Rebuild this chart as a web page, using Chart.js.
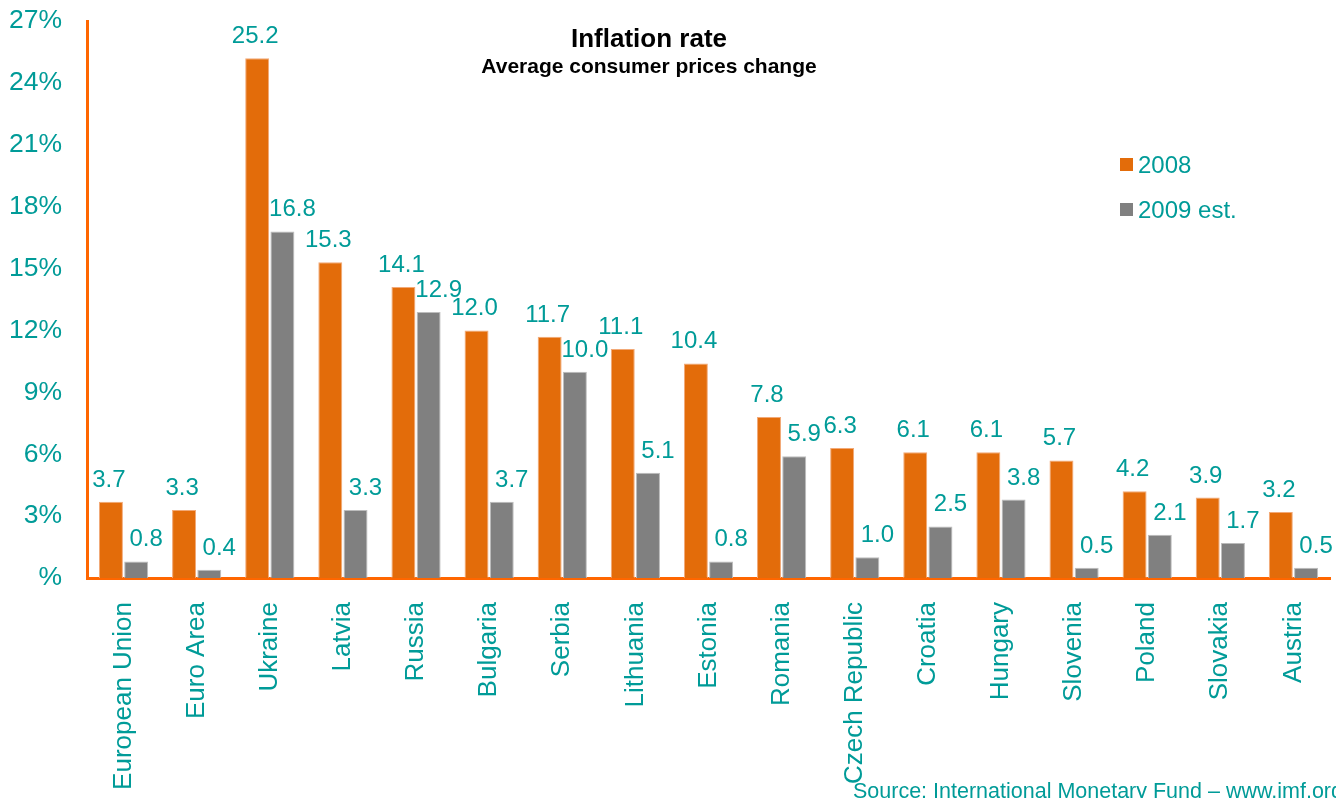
<!DOCTYPE html>
<html>
<head>
<meta charset="utf-8">
<script src="https://cdn.jsdelivr.net/npm/chart.js@4.4.0/dist/chart.umd.min.js"></script>
<style>
  body { margin: 0; background: #fff; }
  #wrap { width: 1336px; height: 798px; }
</style>
</head>
<body>
<div id="wrap"><canvas id="chart" width="1336" height="798"></canvas></div>
<script>
// ----------------------
// Datos
// ----------------------
const categories = ['European Union', 'Euro Area', 'Ukraine', 'Latvia', 'Russia', 'Bulgaria', 'Serbia',
  'Lithuania', 'Estonia', 'Romania', 'Czech Republic', 'Croatia', 'Hungary', 'Slovenia', 'Poland',
  'Slovakia', 'Austria'];
const values2008 = [3.7, 3.3, 25.2, 15.3, 14.1, 12.0, 11.7, 11.1, 10.4, 7.8, 6.3, 6.1, 6.1, 5.7, 4.2, 3.9, 3.2];
const values2009 = [0.8, 0.4, 16.8, 3.3, 12.9, 3.7, 10.0, 5.1, 0.8, 5.9, 1.0, 2.5, 3.8, 0.5, 2.1, 1.7, 0.5];
const seriesNames = ['2008', '2009 est.'];
const yMin = 0, yMax = 27, yStep = 3;

const TEAL = '#009b98';
const ORANGE = '#e36c0a';
const GREY = '#808080';
const AXIS = '#ff6600';
const FONT = '"Liberation Sans", Arial, sans-serif';

// ----------------------
// Textos, leyenda y etiquetas dibujadas a mano
// ----------------------
const extrasPlugin = {
  id: 'extras',
  afterDatasetsDraw(chart) {
    const ctx = chart.ctx;
    ctx.save();

    // etiquetas de valores
    ctx.fillStyle = TEAL;
    ctx.font = '24px ' + FONT;
    ctx.textAlign = 'center';
    ctx.textBaseline = 'alphabetic';
    chart.data.datasets.forEach((ds, i) => {
      const shift = i === 0 ? -2 : 10;
      chart.getDatasetMeta(i).data.forEach((bar, j) => {
        ctx.fillText(ds.data[j].toFixed(1), bar.x + shift, bar.y - 15);
      });
    });

    // titulo
    ctx.fillStyle = '#000';
    ctx.font = 'bold 26px ' + FONT;
    ctx.textBaseline = 'middle';
    ctx.fillText('Inflation rate', 649, 40);
    ctx.font = 'bold 21px ' + FONT;
    ctx.fillText('Average consumer prices change', 649, 67);

    // leyenda
    ctx.textAlign = 'left';
    ctx.font = '24px ' + FONT;
    chart.data.datasets.forEach((ds, i) => {
      const y = 165 + i * 45;
      ctx.fillStyle = ds.backgroundColor;
      ctx.fillRect(1120, y - 7, 13, 13);
      ctx.fillStyle = TEAL;
      ctx.fillText(ds.label, 1138, y + 1);
    });

    // fuente
    ctx.font = '21.5px ' + FONT;
    ctx.textBaseline = 'alphabetic';
    ctx.fillText('Source: International Monetary Fund \u2013 www.imf.org', 853, 798);

    ctx.restore();
  }
};

new Chart(document.getElementById('chart'), {
  type: 'bar',
  data: {
    labels: categories,
    datasets: [
      { label: seriesNames[0], data: values2008, backgroundColor: ORANGE, borderColor: '#f2a977', borderWidth: 1 },
      { label: seriesNames[1], data: values2009, backgroundColor: GREY, borderColor: '#bdbdbd', borderWidth: 1 }
    ]
  },
  options: {
    responsive: false,
    animation: false,
    layout: { padding: { top: 21, right: 6, left: 0, bottom: 0 } },
    datasets: { bar: { categoryPercentage: 0.69, barPercentage: 0.95 } },
    plugins: { legend: { display: false }, title: { display: false }, tooltip: { enabled: false } },
    scales: {
      x: {
        grid: { display: false },
        border: { display: true, color: AXIS, width: 3 },
        ticks: {
          color: TEAL, font: { size: 26, family: FONT },
          minRotation: 90, maxRotation: 90, autoSkip: false, padding: 16
        },
        afterFit(scale) {
          scale.height = 220;
          scale.paddingLeft = 0;
          scale.paddingRight = 0;
        }
      },
      y: {
        min: yMin, max: yMax,
        grid: { display: false },
        border: { display: true, color: AXIS, width: 3 },
        ticks: {
          stepSize: yStep, color: TEAL, font: { size: 26.5, family: FONT }, padding: 17,
          callback: v => (v === 0 ? '%' : v + '%')
        },
        afterFit(scale) {
          scale.width = 87;
          scale.paddingTop = 0;
          scale.paddingBottom = 0;
        }
      }
    }
  },
  plugins: [extrasPlugin]
});
</script>
</body>
</html>
